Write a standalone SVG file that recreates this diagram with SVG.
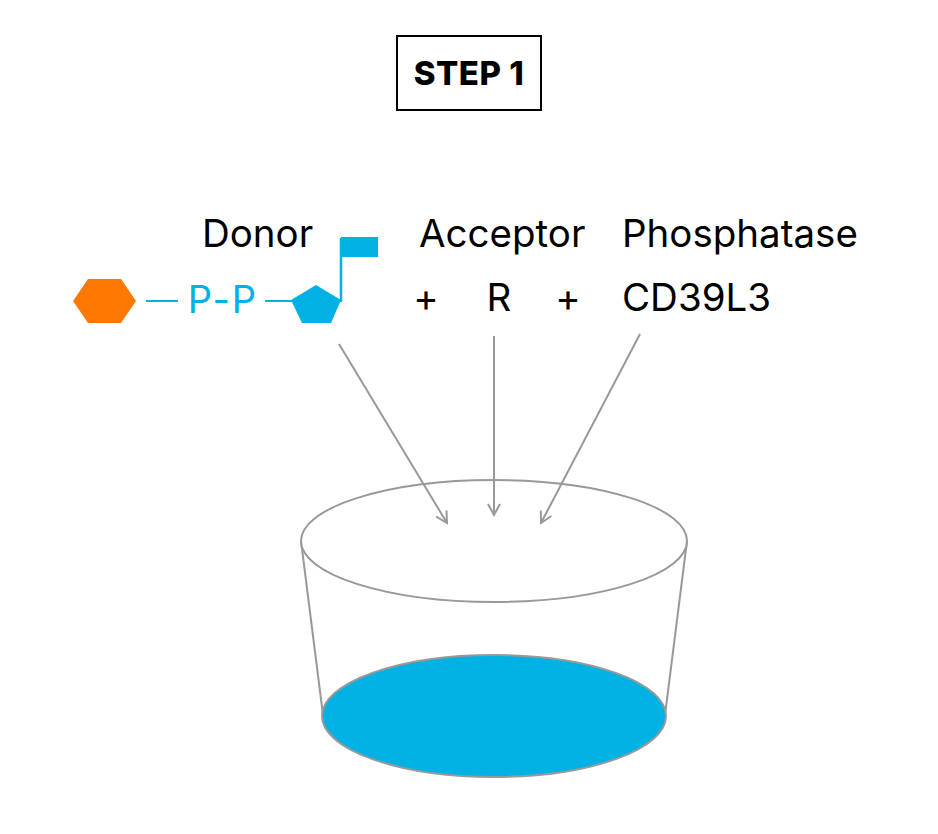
<svg xmlns="http://www.w3.org/2000/svg" width="938" height="834" viewBox="0 0 938 834">
<style>
text{font-family:Inter,"Liberation Sans",sans-serif;}
.lbl{font-size:38.5px;fill:#000;}
.con{stroke:#999;stroke-width:2;fill:none;}
.cup{stroke:#999;stroke-width:2;}
</style>
<defs><marker id="ah" markerWidth="14" markerHeight="14" refX="12" refY="7" orient="auto" markerUnits="userSpaceOnUse"><path d="M1,1 L12,7 L1,13" fill="none" stroke="#999" stroke-width="2"/></marker></defs>
<rect width="938" height="834" fill="#fff"/>
<g id="title"><rect x="397" y="36" width="144" height="74" fill="#fff" stroke="#000" stroke-width="2"/><text x="469" y="85" font-size="33" font-weight="800" text-anchor="middle" letter-spacing="0.5">STEP 1</text></g>
<g id="cup">
<path class="cup" d="M301,541 L323,715 M687,541 L665,715" fill="none"/>
<ellipse cx="494" cy="716" rx="172" ry="61" fill="#00b2e3" stroke="#999" stroke-width="2"/>
<ellipse cx="494" cy="541" rx="193" ry="61" fill="#fff" stroke="#999" stroke-width="2"/>
</g>
<g id="donor">
<text class="lbl" x="202" y="247">Donor</text>
<polygon points="73,301 88,279 121,279 136,301 121,323 88,323" fill="#ff7800"/>
<line x1="146" y1="301" x2="178" y2="301" stroke="#00b2e3" stroke-width="2"/>
<text x="223" y="313" font-size="38" fill="#00b2e3" text-anchor="middle" letter-spacing="2">P-P</text>
<line x1="265" y1="301" x2="293" y2="301" stroke="#00b2e3" stroke-width="2"/>
<polygon points="316,285 341,300 331,323 302,323 291,300" fill="#00b2e3"/>
<line x1="341" y1="238" x2="341" y2="302" stroke="#00b2e3" stroke-width="2.5"/>
<rect x="341" y="237" width="37" height="20" fill="#00b2e3"/>
</g>
<g id="acceptor"><text class="lbl" x="419" y="247">Acceptor</text><text class="lbl" x="426" y="311" text-anchor="middle">+</text><text class="lbl" x="499" y="311" text-anchor="middle">R</text><text class="lbl" x="568" y="311" text-anchor="middle">+</text></g>
<g id="phosphatase"><text class="lbl" x="622" y="247">Phosphatase</text><text class="lbl" x="622" y="311">CD39L3</text></g>
<g id="connectors">
<line class="con" x1="339" y1="344" x2="447" y2="523" marker-end="url(#ah)"/>
<line class="con" x1="494" y1="336" x2="494" y2="515" marker-end="url(#ah)"/>
<line class="con" x1="640" y1="334" x2="541" y2="523" marker-end="url(#ah)"/>
</g>
</svg>
